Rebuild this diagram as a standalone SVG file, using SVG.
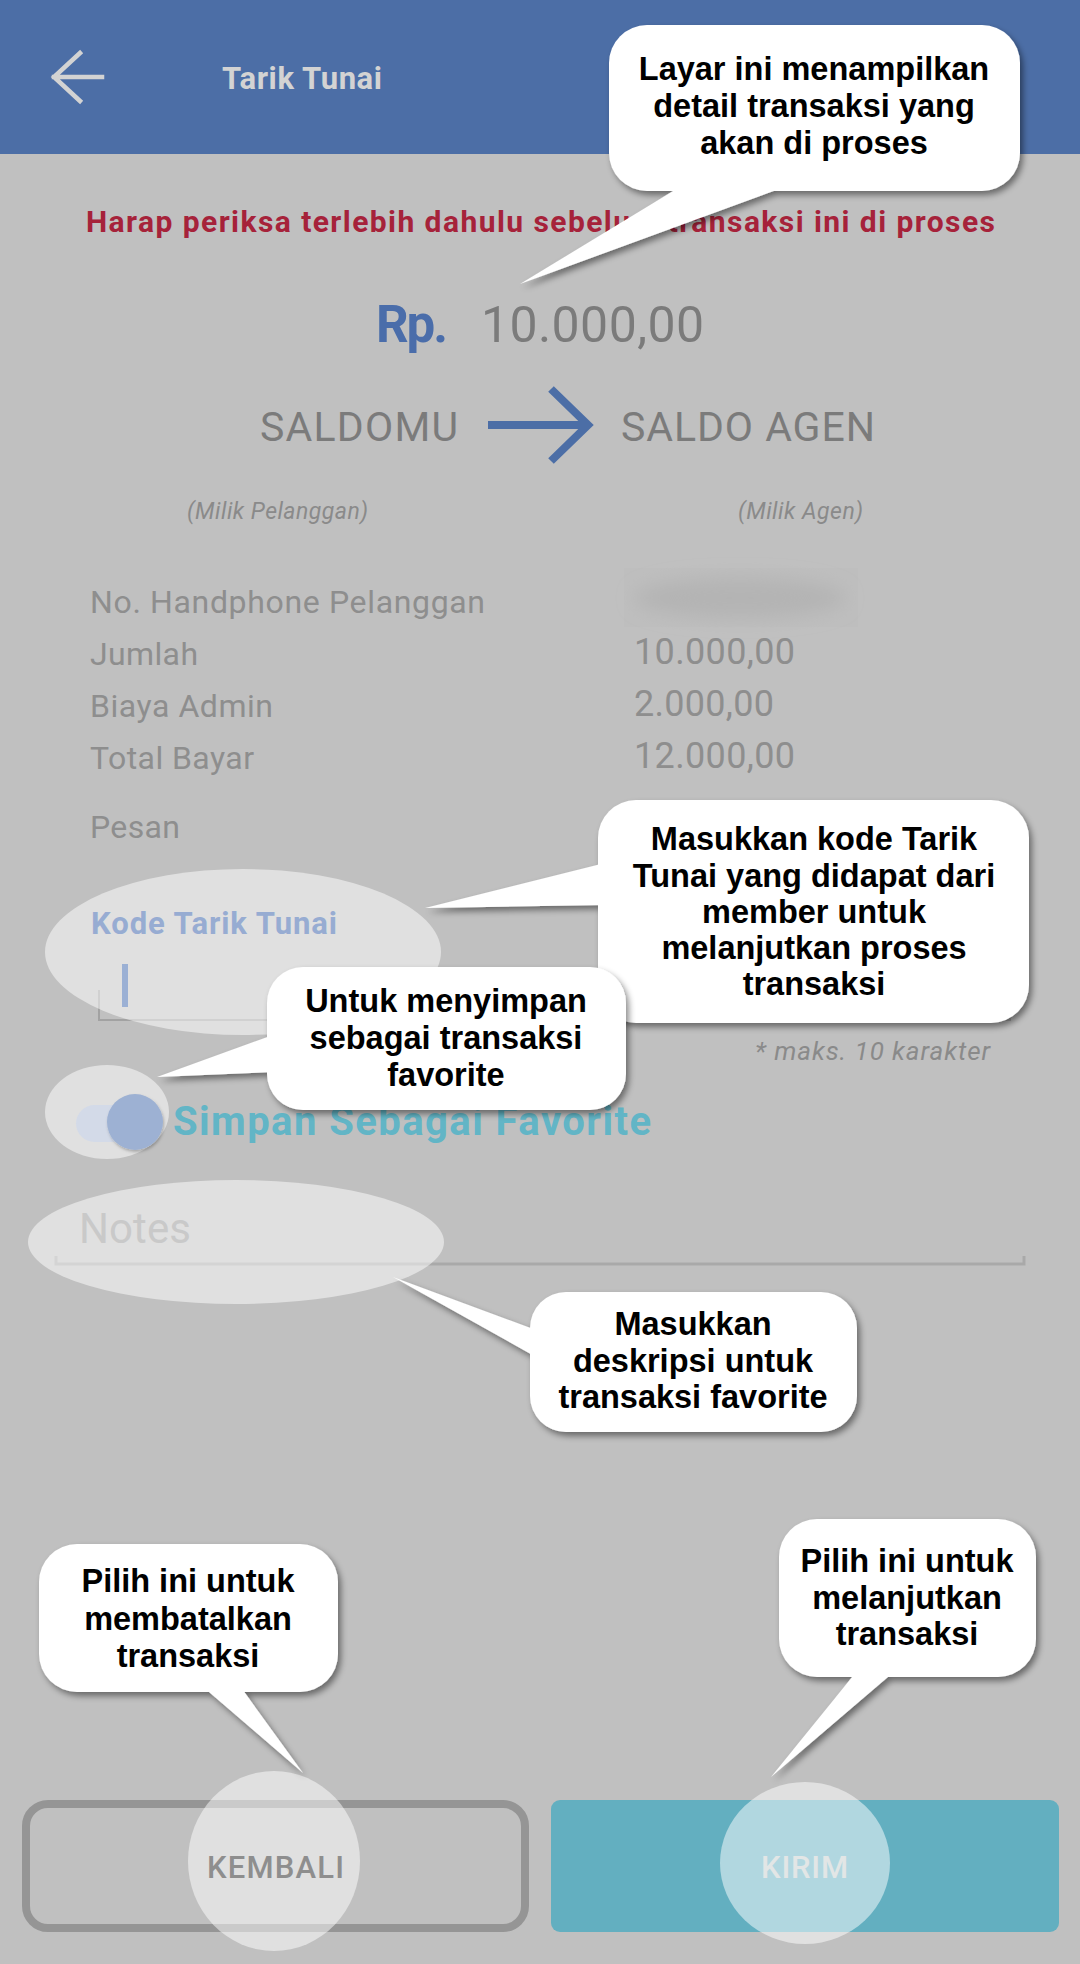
<svg xmlns="http://www.w3.org/2000/svg" width="1080" height="1964" viewBox="0 0 1080 1964">
<defs>
<filter id="shadow" x="-10%" y="-10%" width="125%" height="130%">
<feDropShadow dx="3" dy="4" stdDeviation="3" flood-color="#000" flood-opacity="0.45"/>
</filter>
<filter id="blur" x="-30%" y="-80%" width="160%" height="260%">
<feGaussianBlur stdDeviation="9"/>
</filter>
<filter id="knobshadow" x="-30%" y="-30%" width="160%" height="160%">
<feDropShadow dx="1" dy="2" stdDeviation="1.5" flood-color="#000" flood-opacity="0.25"/>
</filter>
<style>
.ui{font-family:Roboto,"Liberation Sans",sans-serif}
.lbl{font-family:Roboto,"Liberation Sans",sans-serif;font-size:32px;fill:#8E8E8E}
.val{font-family:Roboto,"Liberation Sans",sans-serif;font-size:36px;fill:#8E8E8E}
.hl{fill:#FFFFFF;fill-opacity:0.5}
.bub{fill:#FFFFFF}
.bt{font-family:"Liberation Sans",Arial,sans-serif;font-weight:700;font-size:32.5px;fill:#000;text-anchor:middle}
</style>
</defs>

<!-- screen -->
<g id="screen">
<rect x="0" y="0" width="1080" height="1964" fill="#C0C0C0"/>
<rect x="0" y="0" width="1080" height="154" fill="#4C6EA6"/>
</g>

<g id="header">
<path d="M80,53 L54,77 L80,101 M54,77 H102" fill="none" stroke="#D3D3D3" stroke-width="4.5" stroke-linecap="square"/>
<text class="ui" x="222" y="89" font-size="31" font-weight="700" fill="#D3D3D3" textLength="160" lengthAdjust="spacing">Tarik Tunai</text>
</g>

<g id="warning">
<text class="ui" x="86" y="232" font-size="30" font-weight="700" fill="#A6223A" textLength="909" lengthAdjust="spacing">Harap periksa terlebih dahulu sebelum transaksi ini di proses</text>
</g>

<g id="amount">
<text class="ui" x="376" y="342" font-size="51" font-weight="700" fill="#4A6DAA" textLength="72" lengthAdjust="spacing">Rp.</text>
<text class="ui" x="481" y="342" font-size="50" fill="#7B7B7B" textLength="223" lengthAdjust="spacing">10.000,00</text>
</g>

<g id="saldomu">
<text class="ui" x="260" y="441" font-size="41" fill="#7B7B7B" textLength="198" lengthAdjust="spacing">SALDOMU</text>
<text class="ui" x="187" y="519" font-size="23" font-style="italic" fill="#8A8A8A" textLength="181" lengthAdjust="spacing">(Milik Pelanggan)</text>
</g>
<g id="saldo-agen">
<text class="ui" x="621" y="441" font-size="41" fill="#7B7B7B" textLength="254" lengthAdjust="spacing">SALDO AGEN</text>
<text class="ui" x="738" y="519" font-size="23" font-style="italic" fill="#8A8A8A" textLength="125" lengthAdjust="spacing">(Milik Agen)</text>
</g>

<g id="connectors">
<path d="M488,425 H584 M551,389 L588,425 L551,461" fill="none" stroke="#4C6EA6" stroke-width="8"/>
</g>

<g id="details">
<text class="lbl" x="90" y="613" textLength="395" lengthAdjust="spacing">No. Handphone Pelanggan</text>
<text class="lbl" x="90" y="665" textLength="108" lengthAdjust="spacing">Jumlah</text>
<text class="lbl" x="90" y="717" textLength="183" lengthAdjust="spacing">Biaya Admin</text>
<text class="lbl" x="90" y="769" textLength="164" lengthAdjust="spacing">Total Bayar</text>
<text class="lbl" x="90" y="838" textLength="90" lengthAdjust="spacing">Pesan</text>
<rect x="624" y="568" width="234" height="59" fill="#BEBEBE"/>
<ellipse cx="740" cy="598" rx="105" ry="20" fill="#B4B4B4" filter="url(#blur)"/>
<text class="val" x="634" y="664" textLength="161" lengthAdjust="spacing">10.000,00</text>
<text class="val" x="634" y="716" textLength="140" lengthAdjust="spacing">2.000,00</text>
<text class="val" x="634" y="768" textLength="161" lengthAdjust="spacing">12.000,00</text>
</g>

<g id="kode-field">
<path d="M99,990 V1020 H1010 V990" fill="none" stroke="#A2A2A2" stroke-width="2"/>
<text class="ui" x="755" y="1060" font-size="26" font-style="italic" fill="#8A8A8A" textLength="235" lengthAdjust="spacing">* maks. 10 karakter</text>
</g>

<g id="favorite">
<text class="ui" x="173" y="1135" font-size="40" font-weight="700" fill="#62B5C6" textLength="478" lengthAdjust="spacing">Simpan Sebagai Favorite</text>
</g>

<g id="notes">
<path d="M56,1256 V1264 H1024 V1256" fill="none" stroke="#A9A9A9" stroke-width="3"/>
</g>

<g id="btn-kembali">
<rect x="26" y="1804" width="499" height="124" rx="22" fill="none" stroke="#959595" stroke-width="8"/>
</g>
<g id="btn-kirim">
<rect x="551" y="1800" width="508" height="132" rx="9" fill="#63AFC0"/>
</g>

<!-- highlights -->
<g id="hl-kode">
<ellipse class="hl" cx="243" cy="952" rx="198" ry="83"/>
<text class="ui" x="91" y="934" font-size="31" font-weight="700" fill="#97ACD2" textLength="246" lengthAdjust="spacing">Kode Tarik Tunai</text>
<rect x="122" y="964" width="6" height="43" fill="#9BB0D4"/>
</g>
<g id="hl-toggle">
<ellipse class="hl" cx="107" cy="1112" rx="62" ry="47"/>
<rect x="76" y="1105" width="64" height="37" rx="18.5" fill="#D3DAE8"/>
<circle cx="135" cy="1122" r="28" fill="#9DB1D3" filter="url(#knobshadow)"/>
</g>
<g id="hl-notes">
<ellipse class="hl" cx="236" cy="1242" rx="208" ry="62"/>
<text class="ui" x="79" y="1243" font-size="42" fill="#C9C9C9" textLength="112" lengthAdjust="spacing">Notes</text>
</g>
<g id="hl-kembali">
<ellipse class="hl" cx="274" cy="1861" rx="86" ry="90"/>
<text class="ui" x="207" y="1878" font-size="31" font-weight="500" fill="#8E8E8E" textLength="137" lengthAdjust="spacing">KEMBALI</text>
</g>
<g id="hl-kirim">
<ellipse class="hl" cx="805" cy="1863" rx="85" ry="81"/>
<text class="ui" x="761" y="1878" font-size="31" font-weight="500" fill="#E2E6E6" textLength="87" lengthAdjust="spacing">KIRIM</text>
</g>

<!-- callouts -->
<g id="callout-layar" filter="url(#shadow)">
<rect class="bub" x="609" y="25" width="411" height="166" rx="38"/>
<path class="bub" d="M683,185 L520,284 L790,185 Z"/>
</g>
<g id="callout-layar-text">
<text class="bt" x="814" y="80">Layar ini menampilkan</text>
<text class="bt" x="814" y="117">detail transaksi yang</text>
<text class="bt" x="814" y="154">akan di proses</text>
</g>

<g id="callout-kode" filter="url(#shadow)">
<rect class="bub" x="598" y="800" width="431" height="223" rx="38"/>
<path class="bub" d="M605,863 L425,908 L605,905 Z"/>
</g>
<g id="callout-kode-text">
<text class="bt" x="814" y="850">Masukkan kode Tarik</text>
<text class="bt" x="814" y="887">Tunai yang didapat dari</text>
<text class="bt" x="814" y="923">member untuk</text>
<text class="bt" x="814" y="959">melanjutkan proses</text>
<text class="bt" x="814" y="995">transaksi</text>
</g>

<g id="callout-simpan" filter="url(#shadow)">
<rect class="bub" x="267" y="967" width="359" height="143" rx="36"/>
<path class="bub" d="M273,1035 L157,1077 L273,1072 Z"/>
</g>
<g id="callout-simpan-text">
<text class="bt" x="446" y="1012">Untuk menyimpan</text>
<text class="bt" x="446" y="1049">sebagai transaksi</text>
<text class="bt" x="446" y="1086">favorite</text>
</g>

<g id="callout-notes" filter="url(#shadow)">
<rect class="bub" x="530" y="1292" width="327" height="140" rx="36"/>
<path class="bub" d="M536,1330 L393,1277 L536,1357 Z"/>
</g>
<g id="callout-notes-text">
<text class="bt" x="693" y="1335">Masukkan</text>
<text class="bt" x="693" y="1372">deskripsi untuk</text>
<text class="bt" x="693" y="1408">transaksi favorite</text>
</g>

<g id="callout-kembali" filter="url(#shadow)">
<rect class="bub" x="39" y="1544" width="299" height="148" rx="38"/>
<path class="bub" d="M202,1686 L303,1773 L240,1686 Z"/>
</g>
<g id="callout-kembali-text">
<text class="bt" x="188" y="1592">Pilih ini untuk</text>
<text class="bt" x="188" y="1630">membatalkan</text>
<text class="bt" x="188" y="1667">transaksi</text>
</g>

<g id="callout-kirim" filter="url(#shadow)">
<rect class="bub" x="779" y="1519" width="257" height="158" rx="38"/>
<path class="bub" d="M857,1671 L771,1777 L895,1671 Z"/>
</g>
<g id="callout-kirim-text">
<text class="bt" x="907" y="1572">Pilih ini untuk</text>
<text class="bt" x="907" y="1609">melanjutkan</text>
<text class="bt" x="907" y="1645">transaksi</text>
</g>
</svg>
